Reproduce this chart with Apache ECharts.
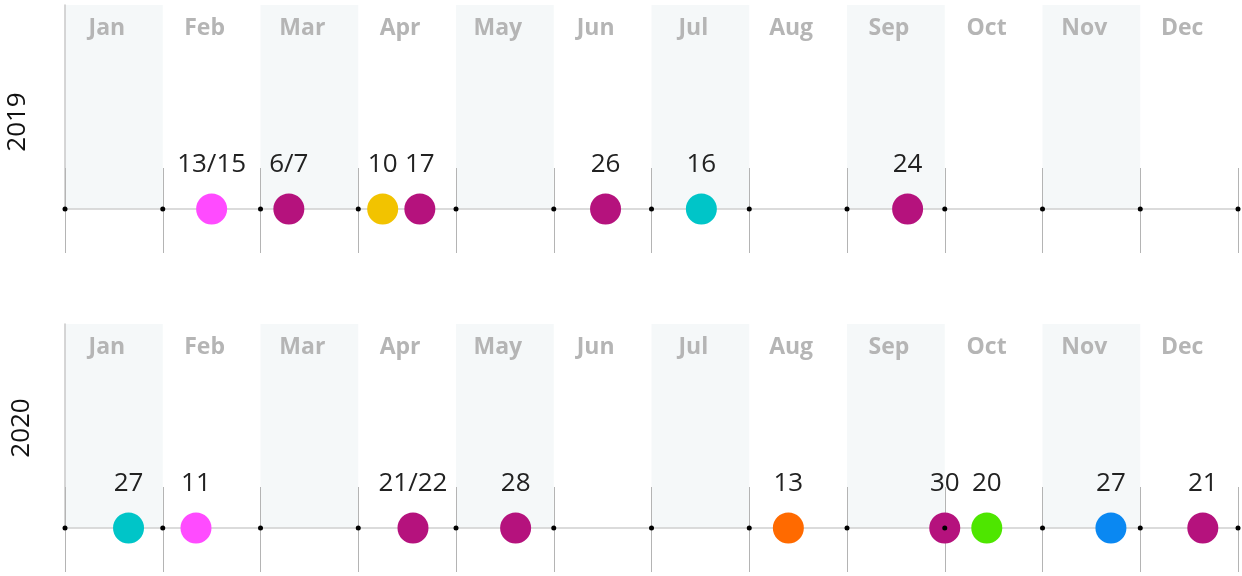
<!DOCTYPE html>
<html>
<head>
<meta charset="utf-8">
<script src="https://cdn.jsdelivr.net/npm/echarts@6/dist/echarts.min.js"></script>
<style>
html,body{margin:0;padding:0;background:#fff;}
#chart{width:1242px;height:576px;}
</style>
</head>
<body>
<div id="chart"></div>
<script>
// ---- data ----
const months = ['Jan','Feb','Mar','Apr','May','Jun','Jul','Aug','Sep','Oct','Nov','Dec'];
const monthBoundaries = [0,1,2,3,4,5,6,7,8,9,10,11,12];
const years = ['2019','2020'];

// positions in month units (0 = start of Jan, 12 = end of Dec)
const pos2019 = [1.50, 2.29, 3.25, 3.63, 5.53, 6.51, 8.62];
const labels2019 = ['13/15','6/7','10','17','26','16','24'];
const kinds2019 = ['pink','magenta','yellow','magenta','magenta','cyan','magenta'];

const pos2020 = [0.65, 1.34, 3.56, 4.61, 7.40, 9.00, 9.43, 10.70, 11.64];
const labels2020 = ['27','11','21/22','28','13','30','20','27','21'];
const kinds2020 = ['cyan','pink','magenta','magenta','orange','magenta','green','blue','magenta'];

// ---- styles ----
const palette = {
  pink:'#ff4bff', magenta:'#b5127d', yellow:'#f2c300', cyan:'#00c5c8',
  orange:'#ff6a00', green:'#4ee600', blue:'#0a88f2'
};
const FONT = '"Open Sans", sans-serif';

const chart = echarts.init(document.getElementById('chart'), null, {renderer:'canvas'});

const grids = [
  {left:65, right:4, top:5, height:204},
  {left:65, right:4, top:324, height:204}
];

const xAxes = [], yAxes = [], series = [];
[ [pos2019, labels2019, kinds2019], [pos2020, labels2020, kinds2020] ].forEach((d, gi) => {
  const base = xAxes.length;
  // main value axis: axis line, upward ticks, shaded split areas
  xAxes.push({
    type:'value', gridIndex:gi, min:0, max:12, interval:1, position:'bottom',
    axisLine:{show:true, onZero:false, lineStyle:{color:'#d0d0d0', width:1.5}},
    axisTick:{show:true, inside:true, length:41, lineStyle:{color:'#b4b4b4', width:1}},
    axisLabel:{show:false},
    splitLine:{show:false},
    splitArea:{show:true, areaStyle:{color:['#f5f8f9','rgba(255,255,255,0)']}}
  });
  // second value axis: downward ticks
  xAxes.push({
    type:'value', gridIndex:gi, min:0, max:12, interval:1, position:'bottom',
    axisLine:{show:false, onZero:false},
    axisTick:{show:true, inside:false, length:44, lineStyle:{color:'#b4b4b4', width:1}},
    axisLabel:{show:false}, splitLine:{show:false}
  });
  // month labels at top
  xAxes.push({
    type:'category', gridIndex:gi, data:months, position:'top', boundaryGap:true,
    axisLine:{show:false}, axisTick:{show:false},
    axisLabel:{inside:true, margin:23, verticalAlign:'middle', color:'#b5b5b5',
      fontFamily:FONT, fontWeight:'bold', fontSize:23, padding:[0,14,0,0]},
    splitLine:{show:false}
  });
  yAxes.push({
    type:'value', gridIndex:gi, min:0, max:1,
    axisLine:{show:true, onZero:false, lineStyle:{color:'#c8c8c8', width:1.5}},
    axisTick:{show:false}, axisLabel:{show:false}, splitLine:{show:false}
  });
  // boundary dots
  series.push({
    type:'scatter', xAxisIndex:base, yAxisIndex:gi, clip:false, z:5,
    symbolSize:5, itemStyle:{color:'#000', opacity:1}, silent:true,
    data: monthBoundaries.map(b => [b, 0])
  });
  // events
  const [pos, labs, kinds] = d;
  series.push({
    type:'scatter', xAxisIndex:base, yAxisIndex:gi, clip:false, z:3,
    symbolSize:31,
    data: pos.map((p,i) => ({
      value:[p,0], name:labs[i],
      itemStyle:{color:palette[kinds[i]], opacity:1}
    })),
    label:{show:true, position:'top', distance:16, formatter:'{b}',
      color:'#222', fontFamily:FONT, fontSize:26}
  });
});

chart.setOption({
  animation:false,
  backgroundColor:'#fff',
  grid:grids,
  xAxis:xAxes,
  yAxis:yAxes,
  series:series,
  graphic:[
    {type:'text', x:17.5, y:122, rotation:Math.PI/2,
      style:{text:years[0], font:'26px "Open Sans", sans-serif', fill:'#111', align:'center', verticalAlign:'middle'}},
    {type:'text', x:22, y:428, rotation:Math.PI/2,
      style:{text:years[1], font:'26px "Open Sans", sans-serif', fill:'#111', align:'center', verticalAlign:'middle'}}
  ]
});
</script>
</body>
</html>
